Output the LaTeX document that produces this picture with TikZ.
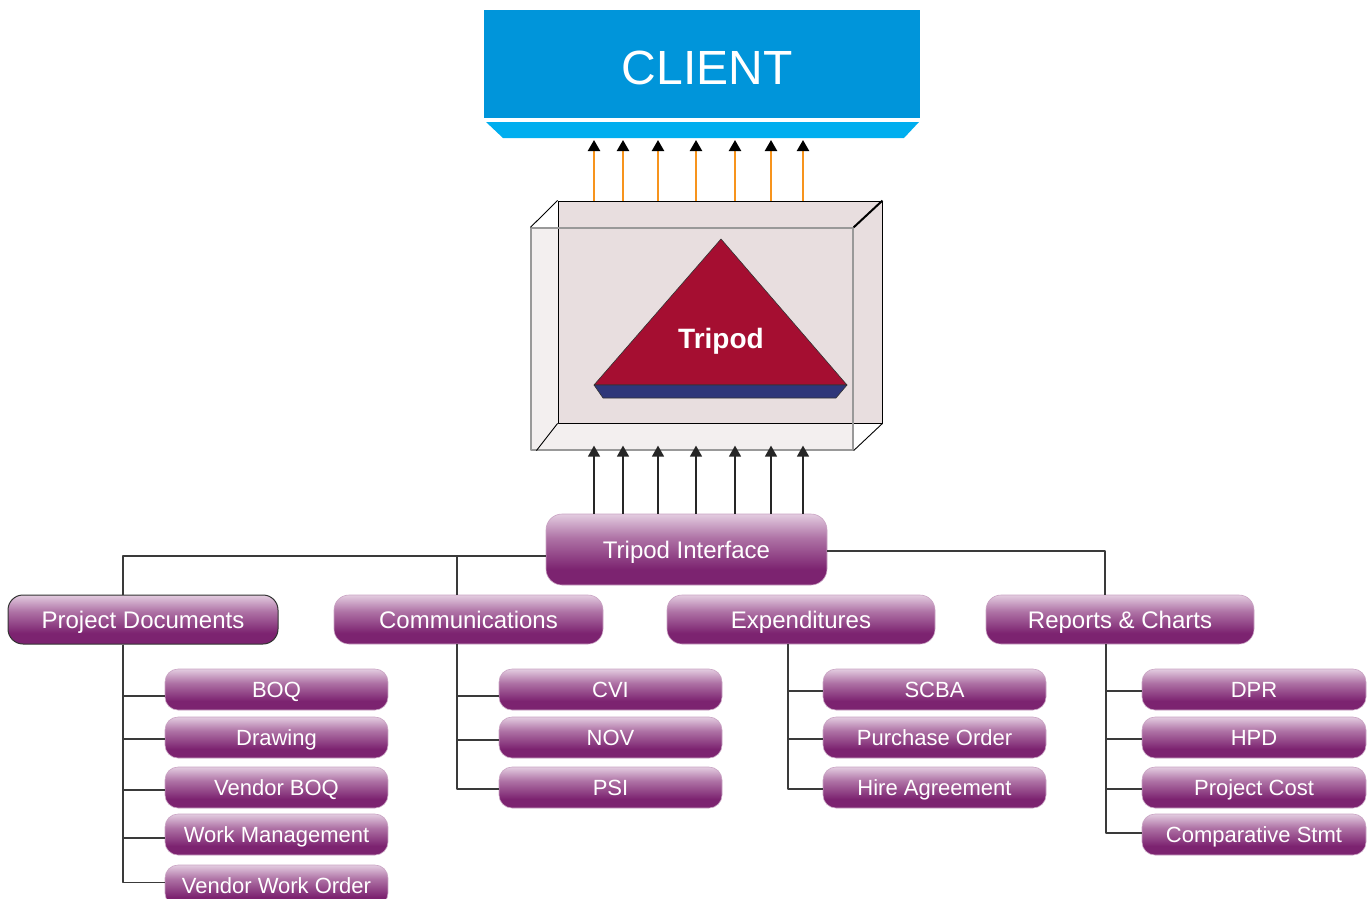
\documentclass[tikz,border=0pt]{standalone}
\usepackage{fontspec}
\setmainfont{Liberation Sans}
\usetikzlibrary{arrows.meta}
\definecolor{clientblue}{HTML}{0095DA}
\definecolor{bandblue}{HTML}{00AEEF}
\definecolor{arrorange}{HTML}{F7941D}
\definecolor{boxpink}{HTML}{E8DEDF}
\definecolor{boxlight}{HTML}{F3EFEF}
\definecolor{tripred}{HTML}{A50E31}
\definecolor{tripblue}{HTML}{2E3679}
\definecolor{plight}{HTML}{E3CCE0}
\definecolor{pmid}{HTML}{AE72A5}
\definecolor{pdark}{HTML}{7C2370}
\definecolor{pborder}{HTML}{C9A3C3}
\definecolor{linegray}{HTML}{3A3A3A}
\pgfdeclareverticalshading{purp}{100bp}{color(0bp)=(pdark); color(25bp)=(pdark); color(36bp)=(pdark); color(58bp)=(pmid); color(75bp)=(plight); color(100bp)=(plight)}
\tikzset{
  pbox/.style={shade, shading=purp, draw=pborder, line width=0.6pt, inner sep=0pt, text=white},
  lvtwo/.style={pbox, rounded corners=15pt, minimum height=49pt, font=\fontsize{24}{28}\selectfont, text height=17.2pt, text depth=0pt},
  lvthree/.style={pbox, rounded corners=13pt, minimum width=223pt, minimum height=41pt, font=\fontsize{22}{26}\selectfont, text height=15.8pt, text depth=0pt},
  conn/.style={draw=linegray, line width=1.3pt},
  uparr/.style={line width=2.2pt, arrorange, -{Triangle[width=12pt,length=11pt,color=black]}},
  inarr/.style={line width=1.4pt, black!85, -{Triangle[width=12pt,length=11pt]}}
}
\begin{document}
\begin{tikzpicture}[x=1pt,y=-1pt,line join=round]
\useasboundingbox (0,0) rectangle (1371,899);
% client
\node[fill=clientblue, minimum width=436pt, minimum height=108pt, inner sep=0pt] (client) at (702,64) {};
\node[text=white, font=\fontsize{48}{56}\selectfont, inner sep=0pt, text height=34.4pt, text depth=0pt] (clienttext) at (707,67.5) {CLIENT};
\fill[bandblue] (486,122) -- (919,122) -- (904,138) -- (503,138) -- cycle;
\coordinate (band) at (711,138);
% 3D box
\fill[boxpink] (558,201) rectangle (882,423);
\fill[boxlight] (531,228) rectangle (558,450);
\fill[boxlight] (558,423) rectangle (853,450);
\node[draw=black, line width=0.9pt, minimum width=324pt, minimum height=222pt, inner sep=0pt] (back) at (720,312) {};
\node[draw=black!40, line width=1.2pt, minimum width=322pt, minimum height=222pt, inner sep=0pt] (front) at (692,339) {};
\draw[line width=0.9pt] (front.north west) -- (back.north west);
\draw[line width=2pt] (front.north east) -- (back.north east);
\draw[line width=0.9pt] ([xshift=6pt]front.south west) -- (back.south west);
\draw[line width=0.9pt] (front.south east) -- (back.south east);
% tripod
\filldraw[fill=tripred, draw=black!80, line width=0.6pt] (721,239) -- (847,385) -- (594,385) -- cycle;
\filldraw[fill=tripblue, draw=black!80, line width=0.6pt] (594,385) -- (847,385) -- (836,398) -- (603,398) -- cycle;
\node[text=white, font=\bfseries\fontsize{28}{32}\selectfont, inner sep=0pt, text height=20pt, text depth=0pt] (tripod) at (721,338.5) {Tripod};
% interface
\node[pbox, rounded corners=16pt, minimum width=281pt, minimum height=71pt, font=\fontsize{24}{28}\selectfont, text height=17.2pt, text depth=0pt] (ti) at (686.5,549.5) {Tripod Interface};
\foreach \x in {594,623,658,696,735,771,803} {
  \draw[uparr] (back.north -| \x,0) -- ([yshift=-2pt]band -| \x,0);
  \draw[inarr] (ti.north -| \x,0) -- ([yshift=5pt]front.south -| \x,0);
}
% level two
\node[lvtwo, draw=black!80, line width=1pt, minimum width=270pt] (pd) at (143,619.5) {Project Documents};
\node[lvtwo, minimum width=269pt] (com) at (468.5,619.5) {Communications};
\node[lvtwo, minimum width=268pt] (exp) at (801,619.5) {Expenditures};
\node[lvtwo, minimum width=268pt] (rep) at (1120,619.5) {Reports \& Charts};
\coordinate (jl) at ([yshift=-6.5pt]ti.west);
\draw[conn] (jl) -| (pd.north -| 123,0);
\draw[conn] (jl -| 457,0) -- (com.north -| 457,0);
\draw[conn] ([yshift=-1.5pt]ti.east) -| (rep.north -| 1105,0);
% level three
\node[lvthree] (boq) at (276.5,689.5) {BOQ};
\node[lvthree] (drw) at (276.5,737.5) {Drawing};
\node[lvthree] (vboq) at (276.5,787.5) {Vendor BOQ};
\node[lvthree] (wm) at (276.5,834.5) {Work Management};
\node[lvthree] (vwo) at (276.5,885.5) {Vendor Work Order};
\node[lvthree] (cvi) at (610.5,689.5) {CVI};
\node[lvthree] (nov) at (610.5,737.5) {NOV};
\node[lvthree] (psi) at (610.5,787.5) {PSI};
\node[lvthree] (scba) at (934.5,689.5) {SCBA};
\node[lvthree] (po) at (934.5,737.5) {Purchase Order};
\node[lvthree] (ha) at (934.5,787.5) {Hire Agreement};
\node[lvthree, minimum width=224pt] (dpr) at (1254,689.5) {DPR};
\node[lvthree, minimum width=224pt] (hpd) at (1254,737.5) {HPD};
\node[lvthree, minimum width=224pt] (pc) at (1254,787.5) {Project Cost};
\node[lvthree, minimum width=224pt] (cs) at (1254,834.5) {Comparative Stmt};
% connectors
\foreach \n/\s in {boq/-6.5, drw/-1.5, vboq/-2.5, wm/-3.5, vwo/3}
  \draw[conn] (pd.south -| 123,0) |- ([yshift=\s pt]\n.west);
\foreach \n/\s in {cvi/-6.5, nov/-2.5, psi/-1.5}
  \draw[conn] (com.south -| 457,0) |- ([yshift=\s pt]\n.west);
\foreach \n/\s in {scba/-1.5, po/-1.5, ha/-1.5}
  \draw[conn] (exp.south -| 788,0) |- ([yshift=\s pt]\n.west);
\foreach \n/\s in {dpr/-1.5, hpd/-1.5, pc/-1.5, cs/1.5}
  \draw[conn] (rep.south -| 1106,0) |- ([yshift=\s pt]\n.west);
\end{tikzpicture}
\end{document}
